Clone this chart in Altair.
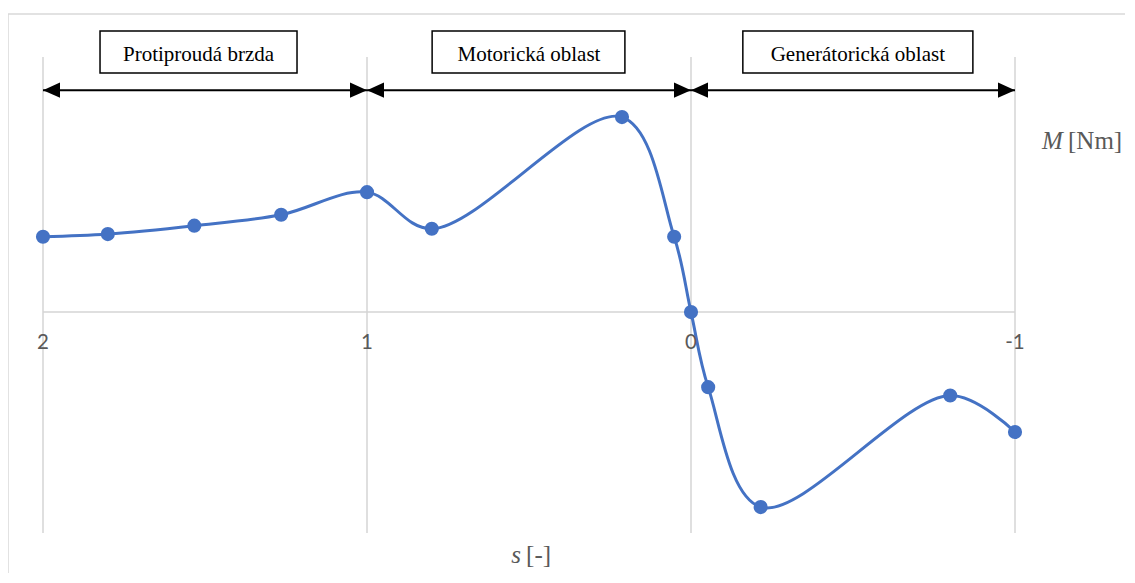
import altair as alt
import pandas as pd

# ---- data ----
slip = [2, 1.8, 1.533, 1.265, 1, 0.8, 0.213, 0.052, 0, -0.053, -0.215, -0.8, -1]
torque = [38.6, 40.0, 44.3, 49.9, 61.5, 42.7, 100.0, 38.6, 0, -38.5, -100.0, -42.8, -61.5]

tick_values = [2, 1, 0, -1]
tick_labels = ["2", "1", "0", "-1"]

region_names = ["Protiproudá brzda", "Motorická oblast", "Generátorická oblast"]
region_start = [2, 1, 0]
region_end = [1, 0, -1]
box_left = [1.824, 0.799, -0.160]
box_right = [1.216, 0.204, -0.870]
box_center = [1.52, 0.5, -0.515]

W, H = 972, 476
Y_DOM = [-113.3, 130.8]
X_DOM = [-1, 2]

xs = alt.Scale(domain=X_DOM, reverse=True, nice=False, zero=False)
ys = alt.Scale(domain=Y_DOM, nice=False, zero=False)

curve = pd.DataFrame({"s": slip, "M": torque})
ticks = pd.DataFrame({"v": tick_values, "lab": tick_labels})
regions = pd.DataFrame({
    "name": region_names, "a": region_start, "b": region_end,
    "bl": box_left, "br": box_right, "bc": box_center,
    "yt": [144.1] * 3, "yb": [122.6] * 3, "ym": [131.8] * 3, "ya": [113.8] * 3,
})

GRID = "#d4d4d4"
BLUE = "#4472C4"


def X(field, **kw):
    return alt.X(field, scale=xs, axis=None, **kw)


def Y(field, **kw):
    return alt.Y(field, scale=ys, axis=None, **kw)


frame = alt.Chart(pd.DataFrame({"k": [0]})).mark_rect(
    fill="transparent", stroke="#d9d9d9", strokeWidth=1.5
).encode(
    x=alt.value(-35), x2=alt.value(W + 300),
    y=alt.value(-43), y2=alt.value(H + 300),
)

# vertical grid lines at the tick values
grid = alt.Chart(ticks).mark_rule(color=GRID, strokeWidth=1.5).encode(
    x=X("v:Q"), y=alt.value(0), y2=alt.value(H),
)

zero_rule = alt.Chart(pd.DataFrame({"k": [0]})).mark_rule(
    color=GRID, strokeWidth=1.5
).encode(
    x=alt.datum(2, scale=xs, axis=None), x2=alt.datum(-1),
    y=alt.datum(0, scale=ys, axis=None)
)

tick_text = alt.Chart(ticks).mark_text(
    font="Lato", fontSize=20.5, color="#595959", baseline="middle", dy=31
).encode(
    x=X("v:Q"), y=alt.datum(0, scale=ys, axis=None), text="lab:N"
)

line = alt.Chart(curve).mark_line(
    interpolate="catmull-rom", color=BLUE, strokeWidth=3
).encode(x=X("s:Q"), y=Y("M:Q"))

points = alt.Chart(curve).mark_point(
    filled=True, color=BLUE, size=200, opacity=1
).encode(x=X("s:Q"), y=Y("M:Q"))

boxes = alt.Chart(regions).mark_rect(
    fill="white", stroke="black", strokeWidth=1.5
).encode(x=X("bl:Q"), x2="br:Q", y=Y("yt:Q"), y2="yb:Q")

box_text = alt.Chart(regions).mark_text(
    font="Liberation Serif", fontSize=21, color="black", baseline="middle"
).encode(x=X("bc:Q"), y=Y("ym:Q"), text="name:N")

arrow_lines = alt.Chart(regions).mark_rule(color="black", strokeWidth=2).encode(
    x=X("a:Q"), x2="b:Q", y=Y("ya:Q")
)

left_heads = alt.Chart(regions).mark_point(
    shape="M0,0L1,-0.45L1,0.45Z", filled=True, color="black", size=1156,
    opacity=1, strokeWidth=0
).encode(x=X("a:Q"), y=Y("ya:Q"))

right_heads = alt.Chart(regions).mark_point(
    shape="M0,0L-1,-0.45L-1,0.45Z", filled=True, color="black", size=1156,
    opacity=1, strokeWidth=0
).encode(x=X("b:Q"), y=Y("ya:Q"))

title_df = pd.DataFrame({"k": [0]})


def label(txt, sx, my, italic, align):
    kw = dict(font="Liberation Serif", fontSize=25, color="#595959",
              align=align, baseline="middle")
    if italic:
        kw["fontStyle"] = "italic"
    return alt.Chart(title_df).mark_text(**kw).encode(
        x=alt.datum(sx, scale=xs, axis=None),
        y=alt.datum(my, scale=ys, axis=None),
        text=alt.value(txt),
    )


m_it = label("M", -1.148, 87.7, True, "right")
m_unit = label("[Nm]", -1.1636, 87.7, False, "left")
s_it = label("s", 0.5247, -124.6, True, "right")
s_unit = label("[-]", 0.509, -124.6, False, "left")

chart = alt.layer(
    frame, grid, zero_rule, line, tick_text, points, arrow_lines, left_heads,
    right_heads, boxes, box_text, m_it, m_unit, s_it, s_unit
).properties(
    width=W, height=H,
    background="white",
    autosize=alt.AutoSizeParams(type="none"),
    padding={"left": 35, "top": 49, "right": 110, "bottom": 40},
).configure_view(strokeWidth=0, stroke="transparent").configure_axis(domain=False)

chart.save("out.html", embed_options={"renderer": "svg", "actions": False})
